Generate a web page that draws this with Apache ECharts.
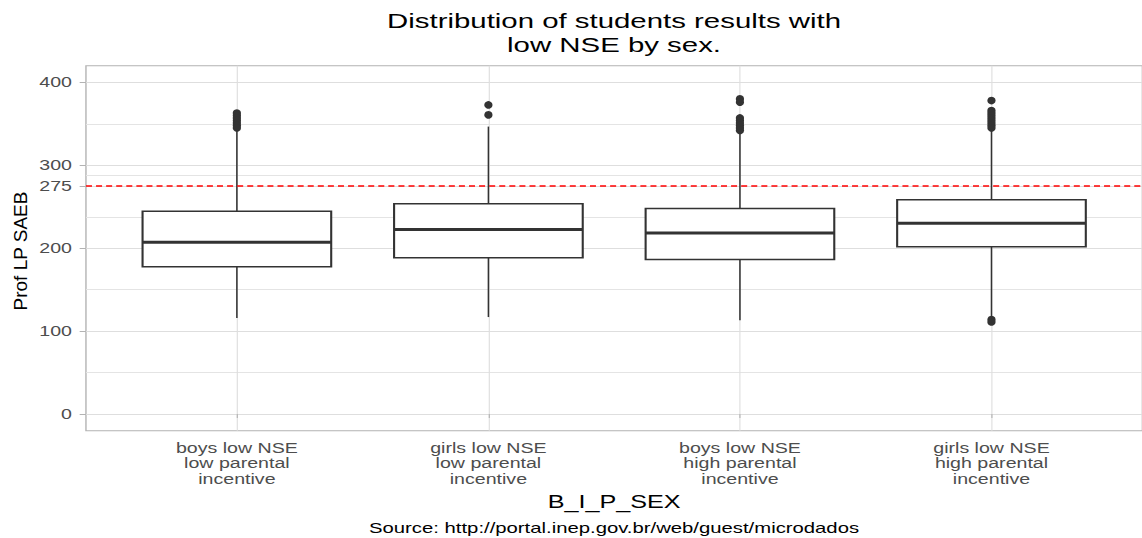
<!DOCTYPE html>
<html>
<head>
<meta charset="utf-8">
<script src="https://cdn.jsdelivr.net/npm/echarts@6/dist/echarts.min.js"></script>
<style>
html, body { margin: 0; padding: 0; background: #ffffff; width: 1142px; height: 538px; overflow: hidden; }
/* the reference is horizontally stretched: draw at natural width, then stretch */
#chart { width: 816px; height: 538px; transform: scaleX(1.4); transform-origin: 0 0; }
</style>
</head>
<body>
<div id="chart"></div>
<script>
// ---------- data ----------
const categories = [
  "boys low NSE\nlow parental\nincentive",
  "girls low NSE\nlow parental\nincentive",
  "boys low NSE\nhigh parental\nincentive",
  "girls low NSE\nhigh parental\nincentive"
];
const whiskerLow  = [116, 117, 113, 118];
const q1          = [177.6, 188.4, 186.3, 201.6];
const median      = [207.1, 222.4, 218.4, 230.0];
const q3          = [244.4, 253.7, 248.0, 258.5];
const whiskerHigh = [343, 346.6, 338, 342];
const outliers = [
  [363, 360, 357, 354, 351, 348, 345],
  [372.7, 360.7],
  [380, 376, 357, 354, 351, 348, 345, 342],
  [378, 366, 363, 360, 357, 354, 351, 348, 345, 114, 111]
];
const yTicks = [0, 100, 200, 275, 300, 400];
const yMinorGrid = [50, 150, 237.5, 287.5, 350];
const xTicks = [1, 2, 3, 4];
const refLine = 275;
const titleText = "Distribution of students results with\nlow NSE by sex.";
const yTitle = "Prof LP SAEB";
const xTitle = "B_I_P_SEX";
const caption = "Source: http://portal.inep.gov.br/web/guest/microdados";

// ---------- build ----------
const FONT = "'Liberation Sans', Arial, sans-serif";
const STRETCH = 1.4;
const boxData = categories.map((c, i) => [i + 1, whiskerLow[i], q1[i], median[i], q3[i], whiskerHigh[i]]);
const outlierData = [];
outliers.forEach((arr, i) => arr.forEach(v => outlierData.push([i + 1, v])));

const chart = echarts.init(document.getElementById('chart'), null, { renderer: 'svg' });

const option = {
  animation: false,
  backgroundColor: '#ffffff',
  title: [
    {
      text: titleText,
      left: 438.6,
      top: 8,
      textAlign: 'center',
      padding: 0,
      textStyle: { fontFamily: FONT, fontSize: 21, fontWeight: 'normal', color: '#000000', lineHeight: 24.5 }
    },
    {
      text: caption,
      left: 438.6,
      top: 520.5,
      textAlign: 'center',
      padding: 0,
      textStyle: { fontFamily: FONT, fontSize: 14.5, fontWeight: 'normal', color: '#000000', lineHeight: 14.5 }
    }
  ],
  graphic: [
    {
      type: 'text',
      x: 15,
      y: 251,
      rotation: Math.PI / 2,
      scaleY: 1 / STRETCH,
      style: { text: yTitle, fontFamily: FONT, fontSize: 19, fill: '#000000', align: 'center', verticalAlign: 'middle' }
    }
  ],
  grid: {
    left: 61.4, top: 65.7, width: 756, height: 365,
    show: true, backgroundColor: '#ffffff', borderColor: '#b3b3b3', borderWidth: 1
  },
  xAxis: {
    type: 'value', min: 0.4, max: 4.6,
    name: xTitle, nameLocation: 'middle', nameGap: 62,
    nameTextStyle: { fontFamily: FONT, fontSize: 18, color: '#000000', lineHeight: 18 },
    axisLine: { show: false },
    axisTick: { show: true, customValues: xTicks, length: 4, lineStyle: { color: '#b3b3b3', width: 0.8 } },
    axisLabel: {
      customValues: xTicks, margin: 9.5,
      fontFamily: FONT, fontSize: 14, color: '#4d4d4d', lineHeight: 15.8,
      formatter: v => categories[Math.round(v) - 1] || ''
    },
    splitLine: { show: true, lineStyle: { color: '#dedede', width: 0.8 } }
  },
  yAxis: [
    {
      type: 'value', min: -20, max: 420,
      axisLine: { show: false },
      axisTick: { show: true, customValues: yTicks, length: 4.5, lineStyle: { color: '#b3b3b3', width: 1 } },
      axisLabel: { customValues: yTicks, margin: 10, fontFamily: FONT, fontSize: 14, color: '#4d4d4d' },
      splitLine: { show: true, lineStyle: { color: '#dedede', width: 1 } }
    },
    {
      type: 'value', min: -20, max: 420, position: 'left',
      axisLine: { show: false },
      axisTick: { show: false, customValues: yMinorGrid },
      axisLabel: { show: false, customValues: yMinorGrid },
      splitLine: { show: true, lineStyle: { color: '#e4e4e4', width: 0.9 } }
    }
  ],
  series: [
    {
      type: 'custom',
      name: 'box',
      data: boxData,
      encode: { x: 0, y: [1, 2, 3, 4, 5] },
      z: 3,
      renderItem: function (params, api) {
        const x = api.value(0);
        const pLo = api.coord([x, api.value(1)]);
        const pA = api.coord([x, api.value(2)]);
        const pM = api.coord([x, api.value(3)]);
        const pB = api.coord([x, api.value(4)]);
        const pHi = api.coord([x, api.value(5)]);
        const hw = api.size([0.75, 0])[0] / 2;
        const stroke = '#333333';
        return {
          type: 'group',
          children: [
            { type: 'line', shape: { x1: pHi[0], y1: pHi[1], x2: pB[0], y2: pB[1] }, style: { stroke: stroke, lineWidth: 1.1 } },
            { type: 'line', shape: { x1: pA[0], y1: pA[1], x2: pLo[0], y2: pLo[1] }, style: { stroke: stroke, lineWidth: 1.1 } },
            { type: 'rect', shape: { x: pB[0] - hw, y: pB[1], width: 2 * hw, height: pA[1] - pB[1] }, style: { fill: '#ffffff', stroke: stroke, lineWidth: 1.5 } },
            { type: 'line', shape: { x1: pM[0] - hw, y1: pM[1], x2: pM[0] + hw, y2: pM[1] }, style: { stroke: stroke, lineWidth: 3 } }
          ]
        };
      }
    },
    {
      type: 'scatter',
      name: 'outliers',
      data: outlierData,
      symbol: 'circle',
      symbolSize: [5.9, 7.6],
      itemStyle: { color: '#333333', opacity: 1 },
      z: 4,
      markLine: {
        silent: true,
        symbol: ['none', 'none'],
        label: { show: false },
        lineStyle: { color: '#ff0000', width: 1.5, type: [4.3, 2.9] },
        data: [{ yAxis: refLine }]
      }
    }
  ]
};
chart.setOption(option);
</script>
</body>
</html>
